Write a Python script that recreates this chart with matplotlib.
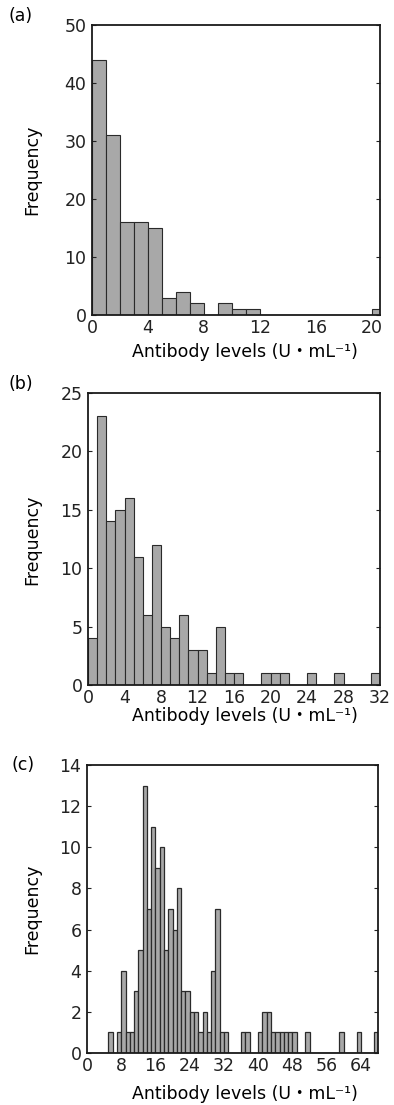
import matplotlib
matplotlib.use("Agg")
import matplotlib.pyplot as plt
import numpy as np

plt.rcParams['font.family'] = ['DejaVu Sans', 'Noto Sans CJK JP']

# histogram counts, one bin per unit of antibody level
counts_a = [44, 31, 16, 16, 15, 3, 4, 2, 0, 2, 1, 1, 0, 0, 0, 0, 0, 0, 0, 0, 1]
counts_b = [4, 23, 14, 15, 16, 11, 6, 12, 5, 4, 6, 3, 3, 1, 5, 1,
            1, 0, 0, 1, 1, 1, 0, 0, 1, 0, 0, 1, 0, 0, 0, 1]
counts_c = [0, 0, 0, 0, 0, 1, 0, 1, 4, 1, 1, 3, 5, 13, 7, 11,
            9, 10, 5, 7, 6, 8, 3, 3, 2, 2, 1, 2, 1, 4, 7, 1,
            1, 0, 0, 0, 1, 1, 0, 0, 1, 2, 2, 1, 1, 1, 1, 1,
            1, 0, 0, 1, 0, 0, 0, 0, 0, 0, 0, 1, 0, 0, 0, 1,
            0, 0, 0, 1]

xticks_a = [0, 4, 8, 12, 16, 20]
xticks_b = [0, 4, 8, 12, 16, 20, 24, 28, 32]
xticks_c = [0, 8, 16, 24, 32, 40, 48, 56, 64]
yticks_a = [0, 10, 20, 30, 40, 50]
yticks_b = [0, 5, 10, 15, 20, 25]
yticks_c = [0, 2, 4, 6, 8, 10, 12, 14]

W, H = 394, 1105
fig = plt.figure(figsize=(W / 100, H / 100), dpi=100)
fs = 12.5
xlabel = 'Antibody levels (U\u30fbmL\u207b\u00b9)'


def make_ax(left, right, top, bottom):
    return fig.add_axes([left / W, 1 - bottom / H, (right - left) / W, (bottom - top) / H])


def draw_panel(ax, counts, xlim, ylim, xticks, yticks, lw=0.8):
    bins = np.arange(len(counts))
    ax.bar(bins, counts, width=1, align='edge', color='#a8a8a8',
           edgecolor='#2a2a2a', linewidth=lw)
    ax.set_xlim(*xlim)
    ax.set_ylim(*ylim)
    ax.set_xticks(xticks)
    ax.set_yticks(yticks)
    ax.tick_params(direction='in', length=3, width=0.8, labelsize=fs,
                   right=True, top=False, pad=4, colors='#222222')
    ax.tick_params(axis='x', length=0, pad=3)
    for s in ax.spines.values():
        s.set_linewidth(1.3)
        s.set_color('#1a1a1a')


ax_a = make_ax(92, 380, 25, 315)
draw_panel(ax_a, counts_a, (0, 20.6), (0, 50), xticks_a, yticks_a)
ax_b = make_ax(88, 380, 393, 685)
draw_panel(ax_b, counts_b, (0, 32), (0, 25), xticks_b, yticks_b)
ax_c = make_ax(87, 378, 765, 1053)
draw_panel(ax_c, counts_c, (0, 68), (0, 14), xticks_c, yticks_c, lw=0.9)

# panel letters, axis titles
for lab, (x, y) in zip(['(a)', '(b)', '(c)'], [(21, 16), (21, 384), (23, 765)]):
    fig.text(x / W, 1 - y / H, lab, fontsize=fs, ha='center', va='center')

for yc in [170, 540, 909]:
    fig.text(32 / W, 1 - yc / H, 'Frequency', fontsize=fs, rotation=90,
             ha='center', va='center')

for yc in [352, 716, 1094]:
    fig.text(245 / W, 1 - yc / H, xlabel, fontsize=fs, ha='center', va='center')

fig.savefig('out.png', dpi=100)
